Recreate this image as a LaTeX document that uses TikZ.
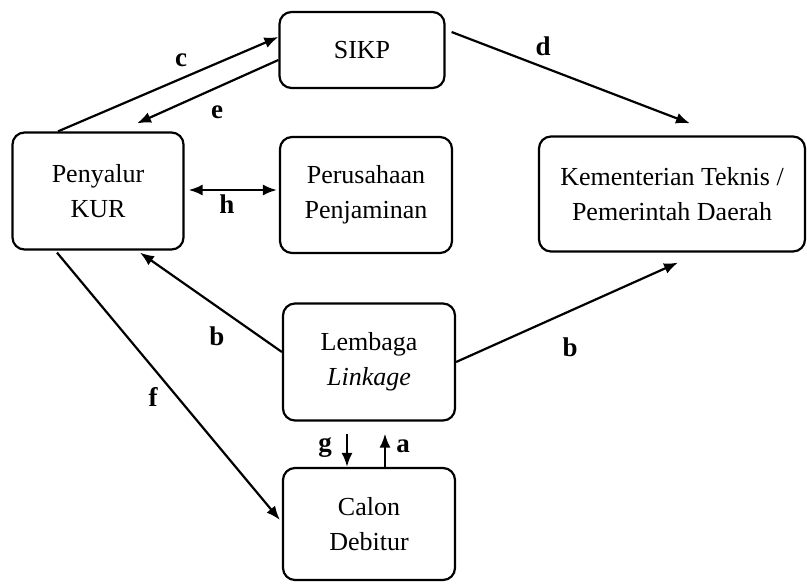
\documentclass[tikz,border=0pt]{standalone}
\usepackage{fontspec}
\setmainfont{Liberation Serif}
\usetikzlibrary{arrows.meta}

\begin{document}
\begin{tikzpicture}[x=0.5pt,y=-0.5pt,
    box/.style={draw, line width=1.1pt, rounded corners=6pt, align=center,
        font=\fontsize{13}{17.5}\selectfont},
    arr/.style={line width=1.1pt, -{Latex[length=7pt,width=5.5pt]}},
    lbl/.style={font=\fontsize{13.5}{15}\selectfont\bfseries}]

    \useasboundingbox (0,0) rectangle (807,583);

    %boxes:
    \node[box, minimum width=82.5pt, minimum height=38pt] (sikp) at (362,50) {SIKP};
    \node[box, minimum width=85.5pt, minimum height=58.5pt] (pk) at (98,191) {Penyalur\\KUR};
    \node[box, minimum width=86pt, minimum height=58pt] (pp) at (366,195) {Perusahaan\\Penjaminan};
    \node[box, minimum width=133pt, minimum height=57.5pt] (kt) at (672,194) {Kementerian Teknis /\\Pemerintah Daerah};
    \node[box, minimum width=86pt, minimum height=58.5pt] (ll) at (369,362) {Lembaga\\\textit{Linkage}};
    \node[box, minimum width=86pt, minimum height=56pt] (cd) at (369,524) {Calon\\Debitur};

    %arrows:
    \draw[arr] ([xshift=-20pt]pk.north) -- ([yshift=6.5pt]sikp.west);
    \draw[arr] ([yshift=-5pt]sikp.west) -- ([xshift=19.5pt,yshift=4pt]pk.north);
    \draw[arr] ([xshift=3pt,yshift=9pt]sikp.east) -- ([xshift=9pt,yshift=6pt]kt.north);
    \draw[arr, {Latex[length=7pt,width=5.5pt]}-{Latex[length=7pt,width=5.5pt]}]
        ([xshift=2pt,yshift=0.5pt]pk.east) -- ([xshift=-1pt,yshift=2.5pt]pp.west);
    \draw[arr] ([yshift=5pt]ll.west) -- ([xshift=21pt,yshift=-1pt]pk.south);
    \draw[arr] (ll.east) -- ([xshift=3pt,yshift=-5pt]kt.south);
    \draw[arr] ([xshift=-20.5pt,yshift=-1pt]pk.south) -- ([xshift=-1pt,yshift=2pt]cd.west);
    \draw[arr] ([xshift=-11pt,yshift=-6pt]ll.south) -- ([xshift=-11pt]cd.north);
    \draw[arr] ([xshift=8pt]cd.north) -- ([xshift=8pt,yshift=-6pt]ll.south);

    %labels:
    \node[lbl] (lc) at (181,60) {c};
    \node[lbl] (le) at (217,112) {e};
    \node[lbl] (lh) at (227,204) {h};
    \node[lbl] (ld) at (543,46) {d};
    \node[lbl] (lb1) at (217,336) {b};
    \node[lbl] (lb2) at (570,347) {b};
    \node[lbl] (lf) at (153,397) {f};
    \node[lbl] (lg) at (325,448) {g};
    \node[lbl] (la) at (403,446) {a};

\end{tikzpicture}
\end{document}
